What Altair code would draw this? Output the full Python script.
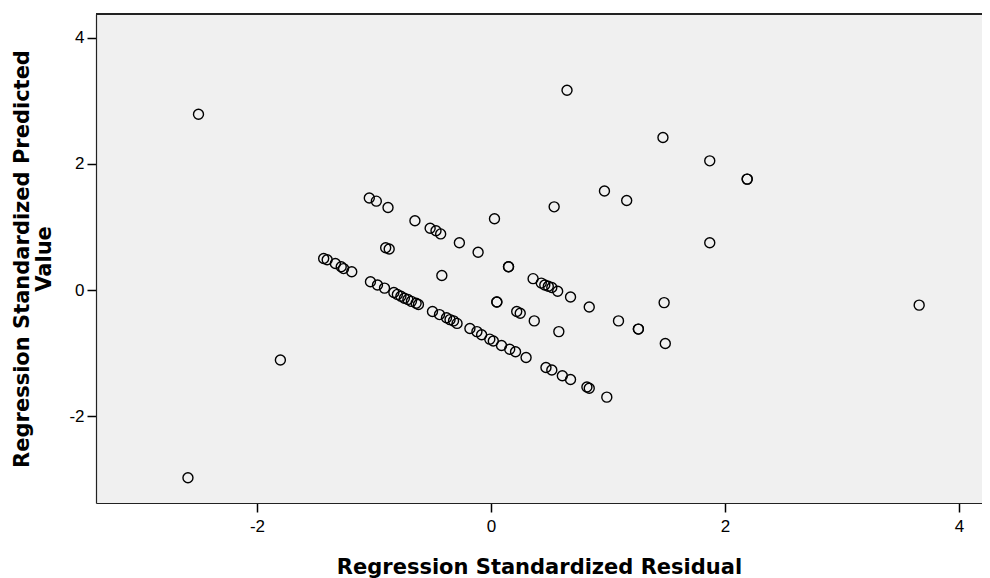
import altair as alt
import pandas as pd

# Regression standardized residual (x) and standardized predicted value (y)
resid = [
    -1.04, -0.98, -0.88, -0.65, -0.52, -0.47, -0.43, -0.27, -0.11, 0.15, 0.15,
    0.36, 0.43, 0.46, 0.49, 0.52, 0.57, 0.68, 0.84, 1.09, 1.26, 1.26, 1.49,
    -0.90, -0.87, -0.42, 0.05, 0.05, 0.22, 0.25, 0.37, 0.58, 0.03, 0.54, 0.97,
    1.16, 1.87, 1.48,
    -1.43, -1.40, -1.33, -1.28, -1.26, -1.19, -1.03, -0.97, -0.91, -0.83, -0.80,
    -0.77, -0.74, -0.71, -0.68, -0.64, -0.62, -0.50, -0.44, -0.38, -0.35, -0.32,
    -0.29, -0.18, -0.12, -0.08, -0.01, 0.02, 0.09, 0.16, 0.21, 0.30, 0.47, 0.52,
    0.61, 0.68, 0.82, 0.84, 0.99,
    -2.50, 0.65, 1.47, 1.87, 2.19, 2.19, 3.66, -1.80, -2.59,
]
pred = [
    1.46, 1.41, 1.31, 1.10, 0.98, 0.94, 0.89, 0.75, 0.60, 0.37, 0.37,
    0.18, 0.11, 0.08, 0.06, 0.04, -0.02, -0.11, -0.27, -0.49, -0.62, -0.62, -0.85,
    0.67, 0.65, 0.23, -0.19, -0.19, -0.34, -0.37, -0.49, -0.66, 1.13, 1.32, 1.57,
    1.42, 0.75, -0.20,
    0.50, 0.48, 0.42, 0.37, 0.34, 0.29, 0.13, 0.08, 0.03, -0.04, -0.07,
    -0.10, -0.13, -0.15, -0.18, -0.21, -0.23, -0.34, -0.39, -0.44, -0.47, -0.49,
    -0.53, -0.61, -0.66, -0.71, -0.78, -0.81, -0.88, -0.94, -0.98, -1.07, -1.23, -1.27,
    -1.36, -1.42, -1.54, -1.56, -1.70,
    2.79, 3.17, 2.42, 2.05, 1.76, 1.76, -0.24, -1.11, -2.98,
]
tick_vals = [-2, 0, 2, 4]

df = pd.DataFrame({"resid": resid, "pred": pred})

LABEL_FONT = "Liberation Sans"
TITLE_FONT = "DejaVu Sans"
W, H = 886, 489

points = alt.Chart(df).mark_point(
    shape="circle", filled=False, color="#000000", size=100, strokeWidth=1.4, opacity=1
).encode(
    x=alt.X(
        "resid:Q",
        scale=alt.Scale(domain=[-3.376, 4.197], nice=False, zero=False),
        axis=alt.Axis(
            values=tick_vals, labelExpr="'' + datum.value", grid=False,
            title="Regression Standardized Residual",
            tickSize=9, tickColor="#000000", tickWidth=1.5,
            domainColor="#222222", domainWidth=1.2,
            labelPadding=6, labelFontSize=17, labelColor="#000000", labelFont=LABEL_FONT,
            titleFontSize=21, titleFont=TITLE_FONT, titleFontWeight="bold", titleColor="#000000",
            titlePadding=22,
        ),
    ),
    y=alt.Y(
        "pred:Q",
        scale=alt.Scale(domain=[-3.38, 4.38], nice=False, zero=False),
        axis=alt.Axis(
            values=tick_vals, labelExpr="'' + datum.value", grid=False,
            title=["Regression Standardized Predicted", "Value"],
            tickSize=9, tickColor="#000000", tickWidth=1.5,
            domainColor="#222222", domainWidth=1.2,
            labelPadding=3, labelFontSize=17, labelColor="#000000", labelFont=LABEL_FONT,
            titleFontSize=21, titleFont=TITLE_FONT, titleFontWeight="bold", titleColor="#000000",
            titlePadding=14, titleLineHeight=22,
        ),
    ),
)

top_rule = alt.Chart(df).mark_rule(color="#222222", strokeWidth=1.2).encode(
    x=alt.value(0), x2=alt.value(W), y=alt.value(0)
)

chart = alt.layer(points, top_rule).properties(
    width=W, height=H,
    autosize=alt.AutoSizeParams(type="none"),
    padding={"left": 88, "top": 6, "right": 0, "bottom": 76},
    background="#ffffff",
).configure_view(
    fill="#f0f0f0", stroke=None
)

chart.save("out.html", embed_options={"renderer": "svg", "actions": False})
